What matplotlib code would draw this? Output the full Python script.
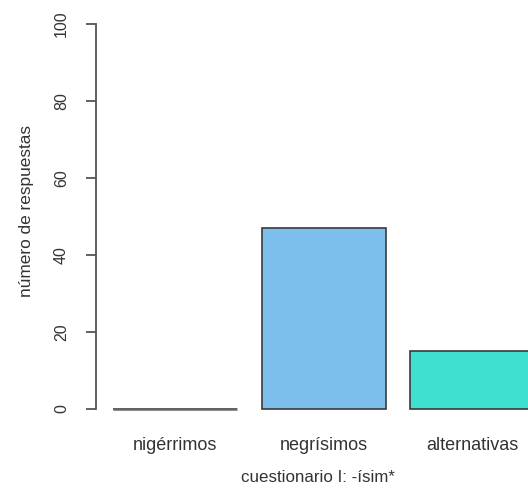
import matplotlib
matplotlib.use("Agg")
import matplotlib.pyplot as plt

categories = ["nigérrimos", "negrísimos", "alternativas"]
counts = [0, 47, 15]
colors = ["#FFFFFF", "#7CBFEC", "#40E0D0"]
yticks = [0, 20, 40, 60, 80, 100]

plt.rcParams['font.family'] = ['Liberation Sans', 'DejaVu Sans']

W, H = 528, 499
fig = plt.figure(figsize=(W / 100, H / 100), dpi=100)

# pixel geometry
px_unit = 124.0      # px per bar-width unit
x0_px = 88.0         # pixel of x=0 in R barplot coords
y0_px, y100_px = 409.0, 24.0
py_unit = (y0_px - y100_px) / 100.0

ax_left_px = 96.0
ylo, yhi = -4, 104
ax_bottom_px = y0_px - ylo * py_unit
ax_top_px = y0_px - yhi * py_unit
ax = fig.add_axes([ax_left_px / W, 1 - ax_bottom_px / H,
                   (W - ax_left_px) / W, (ax_bottom_px - ax_top_px) / H])
ax.set_xlim((ax_left_px - x0_px) / px_unit, (W - x0_px) / px_unit)
ax.set_ylim(ylo, yhi)

lefts = [0.2 + i * 1.2 for i in range(len(categories))]
centers = [l + 0.5 for l in lefts]
ax.bar(centers, counts, width=1.0, color=colors, edgecolor="#3a3a3a",
       linewidth=1.2, zorder=2)
# zero-height bar shows as a grey line
for c, v in zip(centers, counts):
    if v == 0:
        ax.plot([c - 0.5, c + 0.5], [0, 0], color="#666666", lw=1.8, zorder=3,
                solid_capstyle="butt")

for s in ["top", "right", "bottom"]:
    ax.spines[s].set_visible(False)
ax.spines["left"].set_bounds(0, 100)
ax.spines["left"].set_color("#555555")
ax.spines["left"].set_linewidth(1.3)
ax.set_yticks(yticks)
ax.set_yticklabels([str(t) for t in yticks], rotation=90, va="center",
                   fontsize=11.5, color="#333333")
ax.tick_params(axis="y", length=7.5, width=1.3, color="#555555", pad=12)
ax.set_xticks([])

for c, lab in zip(centers, categories):
    xp = x0_px + c * px_unit
    fig.text(xp / W, 1 - 445 / H, lab, ha="center", va="center",
             fontsize=13, color="#333333")

fig.text(318 / W, 1 - 478 / H, "cuestionario I: -ísim*", ha="center",
         va="center", fontsize=12.2, color="#333333")
fig.text(27 / W, 1 - 211 / H, "número de respuestas", ha="center",
         va="center", rotation=90, fontsize=12.4, color="#333333")

fig.savefig("out.png", dpi=100)
